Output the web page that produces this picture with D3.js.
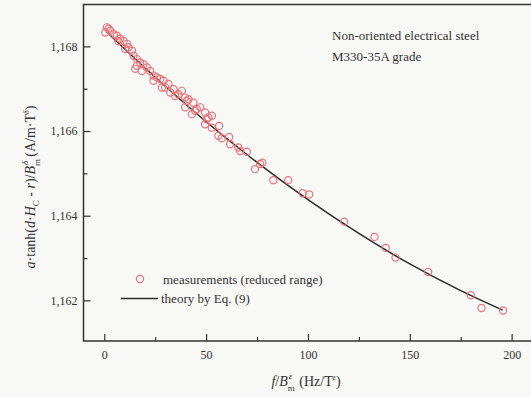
<!DOCTYPE html>
<html>
<head>
<meta charset="utf-8">
<script src="https://cdn.jsdelivr.net/npm/d3@7"></script>
<style>
  html, body { margin: 0; padding: 0; background: #f8f8f6; overflow: hidden; }
  svg { display: block; }
</style>
</head>
<body>
<div class="container"></div>
<script>
// measured points (f/B^e, a*tanh(...)/B^d)
const measX = [1.3, 0.5, 2.1, 2.9, 4.6, 6.2, 7.8, 6.9, 9.5, 11.1, 10.3, 11.9, 13.6, 14.4, 16.0, 16.0, 15.2,
  17.6, 19.3, 18.5, 20.9, 22.5, 24.2, 24.2, 25.8, 27.5, 29.1, 29.9, 31.5, 28.3, 32.4, 34.0, 34.8, 36.4,
  38.1, 39.7, 40.5, 39.7, 41.3, 43.8, 44.6, 43.0, 45.4, 47.1, 49.5, 50.3, 51.1, 49.5, 52.8, 52.8, 56.4,
  56.0, 57.7, 61.3, 61.8, 65.8, 66.7, 70.0, 74.0, 76.5, 77.6, 83.0, 90.3, 97.4, 100.6, 117.8, 132.7,
  138.2, 143.0, 159.0, 179.9, 185.2, 195.8];
const measY = [1.16845, 1.16833, 1.16842, 1.16837, 1.16829, 1.16825, 1.16818, 1.16812, 1.16813, 1.16806,
  1.16794, 1.16798, 1.16790, 1.16778, 1.16770, 1.16754, 1.16747, 1.16762, 1.16758, 1.16742, 1.16750,
  1.16742, 1.16731, 1.16719, 1.16727, 1.16723, 1.16719, 1.16703, 1.16711, 1.16703, 1.16691, 1.16699,
  1.16683, 1.16687, 1.16695, 1.16679, 1.16671, 1.16656, 1.16675, 1.16667, 1.16648, 1.16640, 1.16652,
  1.16656, 1.16644, 1.16628, 1.16632, 1.16616, 1.16636, 1.16608, 1.16612, 1.16589, 1.16583, 1.16586,
  1.16569, 1.16561, 1.16553, 1.16551, 1.16510, 1.16522, 1.16525, 1.16484, 1.16484, 1.16453, 1.16450,
  1.16386, 1.16350, 1.16324, 1.16301, 1.16267, 1.16212, 1.16182, 1.16176];

// theory curve
const theoryX = [1, 25, 50, 75, 100, 125, 150, 175, 195.6];
const theoryY = [1.16835, 1.16727, 1.16622, 1.16526, 1.16438, 1.16358, 1.16286, 1.16223, 1.16177];

const xTicks = [0, 50, 100, 150, 200];
const xMinor = [25, 75, 125, 175];
const yTicks = [1.162, 1.164, 1.166, 1.168];
const yMinor = [1.163, 1.165, 1.167];

const serif = '"Liberation Serif", "Times New Roman", "DejaVu Serif", serif';

const width = 531, height = 398;
const margin = { top: 4.5, left: 83.5, right: -1, bottom: 57 };
const innerWidth = width - margin.left - margin.right;
const innerHeight = height - margin.top - margin.bottom;

const svg = d3.select(".container").append("svg")
  .attr("width", width).attr("height", height)
  .attr("font-family", serif);

const g = svg.append("g")
  .attr("transform", `translate(${margin.left}, ${margin.top})`);

const xScale = d3.scaleLinear([-10.2, 210], [0, innerWidth]);
const yScale = d3.scaleLinear([1.16104, 1.16899], [innerHeight, 0]);

const fmt = d3.formatLocale({ decimal: ",", thousands: ".", grouping: [3], currency: ["", ""] }).format(".3f");

// frame
g.append("rect")
  .attr("width", innerWidth).attr("height", innerHeight)
  .attr("fill", "none").attr("stroke", "#333").attr("stroke-width", 1.5);

// axes (ticks pointing in)
const xAxis = d3.axisBottom(xScale).tickValues(xTicks).tickSize(-7).tickPadding(9);
const yAxis = d3.axisLeft(yScale).tickValues(yTicks).tickFormat(fmt).tickSize(-7).tickPadding(6);

g.append("g").attr("transform", `translate(0, ${innerHeight})`).call(xAxis);
g.append("g").call(yAxis);

const mx = g.append("g").attr("transform", `translate(0, ${innerHeight})`)
  .call(d3.axisBottom(xScale).tickValues(xMinor).tickSize(-4));
const my = g.append("g")
  .call(d3.axisLeft(yScale).tickValues(yMinor).tickSize(-4));
mx.selectAll("text").remove();
my.selectAll("text").remove();

g.selectAll(".domain").remove();
g.selectAll("g").attr("font-family", serif);
g.selectAll(".tick line").attr("stroke", "#333").attr("stroke-width", 1.2);
g.selectAll(".tick text").attr("fill", "#333").style("font-size", "12px");

// theory curve
const line = d3.line()
  .x((d, i) => xScale(theoryX[i]))
  .y((d, i) => yScale(theoryY[i]))
  .curve(d3.curveNatural);

g.append("path")
  .datum(theoryX)
  .attr("d", line)
  .attr("fill", "none").attr("stroke", "#2a2a2a").attr("stroke-width", 1.5);

// measurements
g.selectAll("circle.meas")
  .data(measX).enter().append("circle")
  .attr("class", "meas")
  .attr("cx", (d) => xScale(d))
  .attr("cy", (d, i) => yScale(measY[i]))
  .attr("r", 3.6)
  .attr("fill", "none")
  .attr("stroke", "#e8747a")
  .attr("stroke-width", 1.2);

// annotation
const note = svg.append("text").attr("x", 332).attr("fill", "#333").style("font-size", "13px");
note.append("tspan").attr("x", 332).attr("y", 40).text("Non-oriented electrical steel");
note.append("tspan").attr("x", 332).attr("y", 61).text("M330-35A grade");

// legend
svg.append("circle").attr("cx", 140).attr("cy", 279).attr("r", 3.6)
  .attr("fill", "none").attr("stroke", "#e8747a").attr("stroke-width", 1.2);
svg.append("text").attr("x", 163).attr("y", 284).attr("fill", "#333")
  .style("font-size", "13px").text("measurements (reduced range)");
svg.append("line").attr("x1", 121).attr("x2", 158).attr("y1", 298.5).attr("y2", 298.5)
  .attr("stroke", "#2a2a2a").attr("stroke-width", 1.5);
svg.append("text").attr("x", 161).attr("y", 303).attr("fill", "#333")
  .style("font-size", "13px").text("theory by Eq. (9)");

// x label
const xl = svg.append("text").attr("x", 306).attr("y", 386).attr("text-anchor", "middle")
  .attr("fill", "#333").style("font-size", "14px");
xl.append("tspan").style("font-style", "italic").text("f");
xl.append("tspan").text("/");
xl.append("tspan").style("font-style", "italic").text("B");
xl.append("tspan").attr("dy", 5).style("font-size", "9px").text("m");
xl.append("tspan").attr("dx", -6).attr("dy", -12).style("font-size", "9px").style("font-style", "italic").text("ε");
xl.append("tspan").attr("dx", 7).attr("dy", 7).text("(Hz/T");
xl.append("tspan").attr("dy", -6).style("font-size", "8px").style("font-style", "italic").text("ε");
xl.append("tspan").attr("dy", 6).text(")");

// y label
const yl = svg.append("text")
  .attr("transform", "translate(35, 187) rotate(-90)")
  .attr("text-anchor", "middle").attr("fill", "#333").style("font-size", "14px");
yl.append("tspan").style("font-style", "italic").text("a");
yl.append("tspan").text("·tanh(");
yl.append("tspan").style("font-style", "italic").text("d");
yl.append("tspan").text("·");
yl.append("tspan").style("font-style", "italic").text("H");
yl.append("tspan").attr("dy", 4).style("font-size", "9px").text("C");
yl.append("tspan").attr("dy", -4).text(" - ");
yl.append("tspan").style("font-style", "italic").text("r");
yl.append("tspan").text(")/");
yl.append("tspan").style("font-style", "italic").text("B");
yl.append("tspan").attr("dy", 5).style("font-size", "9px").text("m");
yl.append("tspan").attr("dx", -6).attr("dy", -12).style("font-size", "9px").style("font-style", "italic").text("δ");
yl.append("tspan").attr("dx", 4).attr("dy", 7).text("(A/m·T");
yl.append("tspan").attr("dy", -6).style("font-size", "8px").style("font-style", "italic").text("δ");
yl.append("tspan").attr("dy", 6).text(")");
</script>
</body>
</html>
